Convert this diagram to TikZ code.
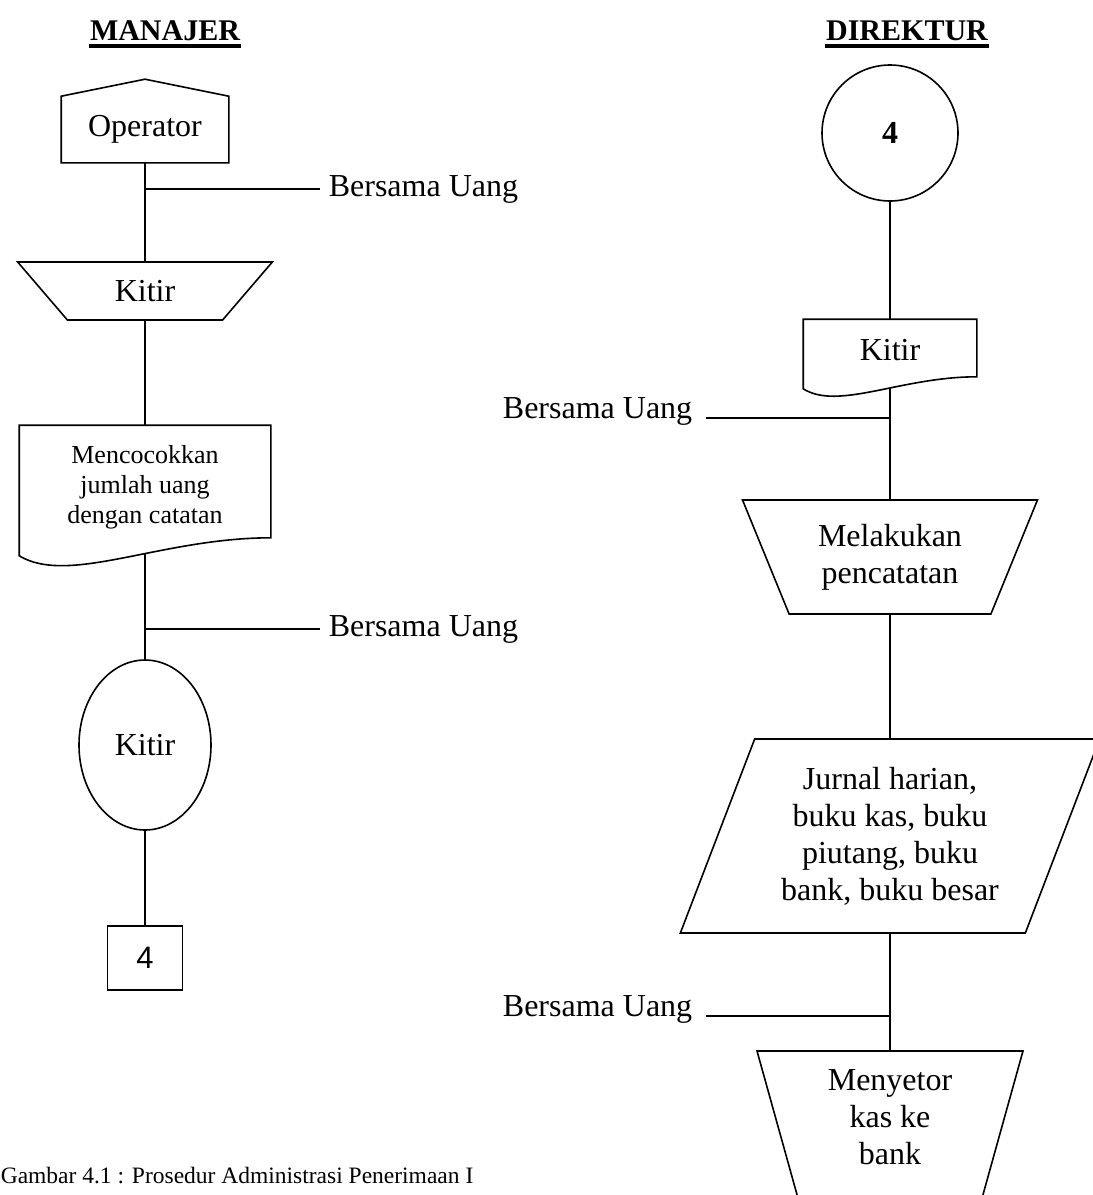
\documentclass[tikz,border=0pt]{standalone}
\usepackage{fontspec}
\setmainfont{Liberation Serif}
\newfontfamily\numfont{Liberation Sans}
\usetikzlibrary{shapes.geometric, calc, backgrounds}
\tikzset{
  every picture/.style={line width=1.6pt},
  txt/.style={font=\fontsize{32}{37}\selectfont, align=center},
  small/.style={font=\fontsize{26}{30}\selectfont, align=center},
  head/.style={font=\fontsize{30}{34}\selectfont\bfseries, inner sep=0pt},
  uline/.style={line width=4pt},
  link/.style={draw=black, line width=1.6pt},
}

\begin{document}
\begin{tikzpicture}[x=1pt, y=-1pt,
  manop/.style={txt, trapezium, draw, fill=white, trapezium stretches=true, shape border rotate=180, inner sep=2pt},
  term/.style={txt, draw, fill=white, inner sep=0pt},
  blank/.style={txt, inner sep=0pt},
  lab/.style={txt, inner ysep=0pt}]
  \useasboundingbox (0,0) rectangle (1093,1195);
  \clip (0,0) rectangle (1093,1195);
  % judul kolom
  \node[head, anchor=base] (hm) at (165,40) {MANAJER};
  \node[head, anchor=base] (hd) at (907,40) {DIREKTUR};
  \draw[uline] ($(hm.base west)+(0,6)$) -- ($(hm.base east)+(0,6)$);
  \draw[uline] ($(hd.base west)+(0,6)$) -- ($(hd.base east)+(0,6)$);
  % kolom manajer
  \node[blank, minimum width=166, minimum height=65] (op) at (145,129.5) {Operator};
  \node[manop, minimum width=255, minimum height=58, trapezium left angle=51, trapezium right angle=51] (ka) at (145,291) {Kitir};
  \node[blank, small, minimum width=250, minimum height=122] (mc) at (145,487) {Mencocokkan\\jumlah uang\\dengan catatan};
  \node[txt, ellipse, draw, fill=white, minimum width=132, minimum height=170, inner sep=0pt] (ke) at (145,745) {Kitir};
  \node[term, font=\numfont\fontsize{31}{36}\selectfont, minimum width=75, minimum height=64] (k4) at (145,958) {4};
  \node[lab, anchor=west, inner xsep=8pt] (bu1) at (320,189) {Bersama Uang};
  \node[lab, anchor=west, inner xsep=8pt] (bu2) at (320,629) {Bersama Uang};
  % kolom direktur
  \node[txt, circle, draw, fill=white, minimum size=136, inner sep=0pt, font=\fontsize{32}{37}\selectfont\bfseries] (c4) at (890,133) {4};
  \node[blank, minimum width=172, minimum height=60] (kd) at (890,350) {Kitir};
  \node[manop, minimum width=295, minimum height=114, trapezium left angle=64, trapezium right angle=64] (ml) at (890,557) {Melakukan\\pencatatan};
  \node[txt, trapezium, draw, fill=white, trapezium stretches=true, minimum width=420, minimum height=194,
    trapezium left angle=66.6, trapezium right angle=113.4, inner sep=0pt] (jr) at (890,836)
    {Jurnal harian,\\buku kas, buku\\piutang, buku\\bank, buku besar};
  \node[manop, minimum width=266, minimum height=200, trapezium left angle=70.2, trapezium right angle=70.2,
    label={[txt, yshift=34pt]center:Menyetor\\kas ke\\bank}] (ms) at (890,1151) {};
  \node[lab, anchor=base east, inner xsep=13pt] (bu3) at (706,418) {Bersama Uang};
  \node[lab, anchor=base east, inner xsep=13pt] (bu4) at (706,1016) {Bersama Uang};
  \node[anchor=base west, inner sep=0pt, font=\fontsize{23.5}{28}\selectfont] (cap) at (0,1183) {Gambar 4.1 : Prosedur Administrasi Penerimaan I};
  \begin{scope}[on background layer, link]
    \draw[link] (op) -- (ka);
    \draw[link] (ka) -- (mc);
    \draw[link] (mc) -- (ke);
    \draw[link] (ke) -- (k4);
    \draw[link] (bu1.west) -- (bu1.west -| op.south);
    \draw[link] (bu2.west) -- (bu2.west -| ke.north);
    \draw[link] (c4) -- (kd);
    \draw[link] (kd) -- (ml);
    \draw[link] (ml) -- (jr);
    \draw[link] (jr) -- (ms);
    \draw[link] (bu3.base east) -- (bu3.base east -| kd.south);
    \draw[link] (bu4.base east) -- (bu4.base east -| jr.south);
    % bentuk khusus
    \draw[link, fill=white] (op.south west) -- (op.north west) -- ($(op.north)+(0,-17)$) -- (op.north east) -- (op.south east) -- cycle;
    \draw[link, fill=white] (mc.north west) -- ($(mc.south west)+(0,7)$) .. controls +(50,30) and +(-110,0) .. ($(mc.south east)+(0,-11)$) -- (mc.north east) -- cycle;
    \draw[link, fill=white] (kd.north west) -- ($(kd.south west)+(0,8)$) .. controls +(35,22) and +(-76,0) .. ($(kd.south east)+(0,-4)$) -- (kd.north east) -- cycle;
  \end{scope}
\end{tikzpicture}
\end{document}
